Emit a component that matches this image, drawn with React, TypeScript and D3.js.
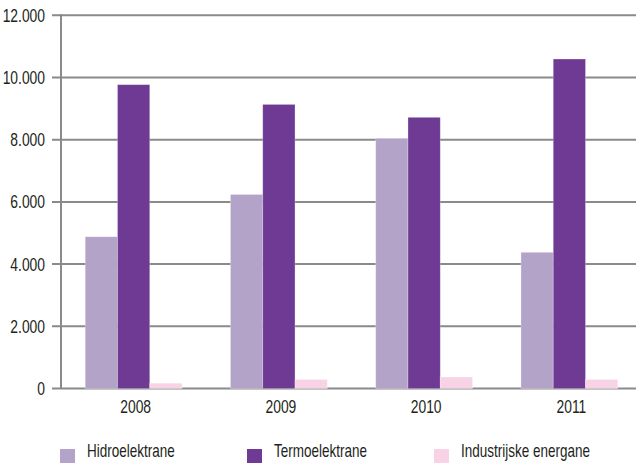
import { useEffect, useRef } from "react";
import * as d3 from "d3";

const years = ["2008", "2009", "2010", "2011"];
const seriesNames = ["Hidroelektrane", "Termoelektrane", "Industrijske energane"];
const hidro = [4880, 6240, 8045, 4380];
const termo = [9770, 9135, 8720, 10595];
const industrija = [170, 290, 370, 290];
const yTicks = [0, 2000, 4000, 6000, 8000, 10000, 12000];

const colors = ["#b3a3c9", "#6e3a93", "#f8d3e5"];

const width = 636;
const height = 463;

export default function App() {
  const svgRef = useRef<SVGSVGElement | null>(null);

  useEffect(() => {
    const svg = d3.select(svgRef.current);
    svg.selectAll("*").remove();

    const margin = { top: 15, left: 61, bottom: 75 };
    const plotRight = 642;
    const y0 = height - margin.bottom + 0.5;

    const x = d3.scaleBand<string>().domain(years).range([margin.left, plotRight]);
    const inner = d3
      .scaleBand<number>()
      .domain([0, 1, 2])
      .range([x.bandwidth() / 6, (x.bandwidth() * 5) / 6]);
    const y = d3.scaleLinear().domain([0, 12000]).range([y0, margin.top + 0.3]);

    // narrow look: Liberation Sans squeezed horizontally
    const font = "'Liberation Sans', Arial, sans-serif";
    const squeeze = 0.77;

    // grid + ticks
    const grid = svg.append("g");
    grid
      .selectAll("line")
      .data(yTicks)
      .join("line")
      .attr("x1", 52)
      .attr("x2", width)
      .attr("y1", (d) => y(d))
      .attr("y2", (d) => y(d))
      .attr("stroke", "#8a8a8a")
      .attr("stroke-width", 2);

    grid
      .selectAll("g")
      .data(yTicks)
      .join("g")
      .attr("transform", (d) => `translate(45,${y(d) + 6.5}) scale(${squeeze},1)`)
      .append("text")
      .attr("text-anchor", "end")
      .style("font-family", font)
      .style("font-size", "18px")
      .style("fill", "#231f20")
      .text((d) => d3.format(",")(d).replace(/,/g, "."));

    // bars
    const data = [hidro, termo, industrija];
    const groups = svg
      .append("g")
      .selectAll("g")
      .data(years)
      .join("g")
      .attr("transform", (d) => `translate(${x(d)},0)`);

    groups
      .selectAll("rect")
      .data((_, i) => data.map((s, k) => ({ k, v: s[i] })))
      .join("rect")
      .attr("x", (d) => inner(d.k)!)
      .attr("width", inner.bandwidth())
      .attr("y", (d) => y(d.v))
      .attr("height", (d) => y0 - y(d.v))
      .attr("fill", (d) => colors[d.k])
      .attr("stroke", "#ffffff")
      .attr("stroke-opacity", 0.35)
      .attr("stroke-width", 0.8);

    // axis line
    svg
      .append("line")
      .attr("x1", margin.left)
      .attr("x2", margin.left)
      .attr("y1", margin.top - 1)
      .attr("y2", y0)
      .attr("stroke", "#8a8a8a")
      .attr("stroke-width", 2);

    // year labels
    svg
      .append("g")
      .selectAll("g")
      .data(years)
      .join("g")
      .attr("transform", (d) => `translate(${x(d)! + x.bandwidth() / 2 + 2},413) scale(${squeeze},1)`)
      .append("text")
      .attr("text-anchor", "middle")
      .style("font-family", font)
      .style("font-size", "18px")
      .style("fill", "#231f20")
      .text((d) => d);

    // legend
    const legendX = [60, 247, 434];
    const legend = svg
      .append("g")
      .selectAll("g")
      .data(seriesNames)
      .join("g")
      .attr("transform", (_, i) => `translate(${legendX[i]},449)`);
    legend
      .append("rect")
      .attr("width", 15)
      .attr("height", 14)
      .attr("fill", (_, i) => colors[i]);
    legend
      .append("g")
      .attr("transform", `translate(27,8) scale(${squeeze - 0.02},1)`)
      .append("text")
      .style("font-family", font)
      .style("font-size", "18px")
      .style("fill", "#231f20")
      .text((d) => d);
  }, []);

  return (
    <svg
      ref={svgRef}
      width={width}
      height={height}
      style={{ position: "absolute", left: 0, top: 0, background: "#ffffff" }}
    />
  );
}
